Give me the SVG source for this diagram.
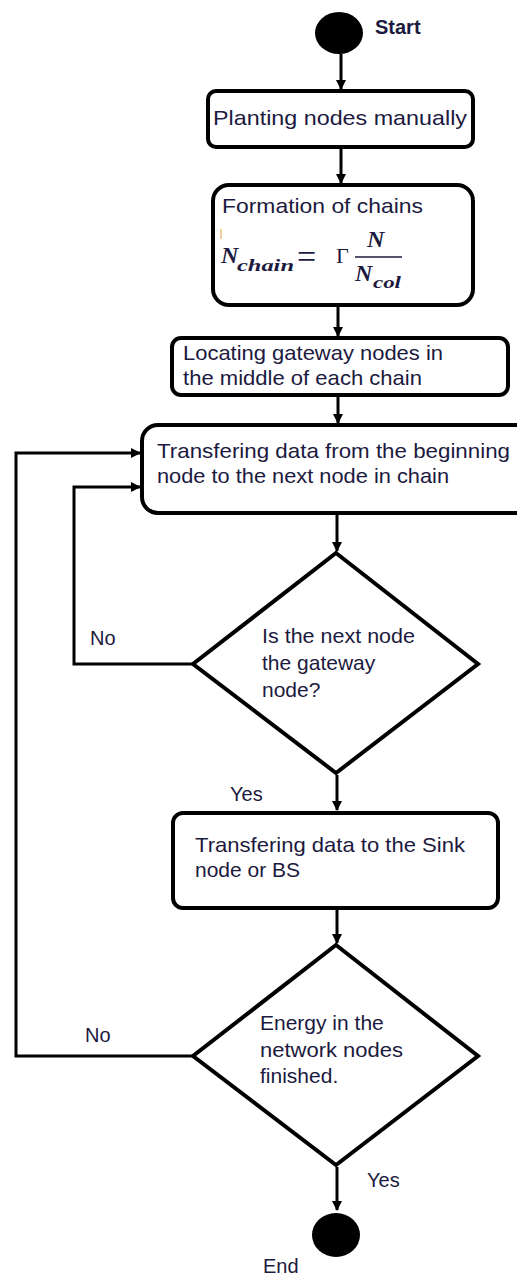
<svg xmlns="http://www.w3.org/2000/svg" width="517" height="1279" viewBox="0 0 517 1279">
<style>
.box{fill:#fff;stroke:#000;stroke-width:4}
.dia{fill:#fff;stroke:#000;stroke-width:4;stroke-linejoin:miter}
.t{font-family:"Liberation Sans",Arial,sans-serif;font-size:21px;fill:#1c1a40}
.lbl{font-family:"Liberation Sans",Arial,sans-serif;font-size:20px;fill:#1c1a40}
.m{font-family:"Liberation Serif","Times New Roman",serif;font-style:italic;font-weight:bold;fill:#1c1a40}
.c{fill:none;stroke:#000;stroke-width:3}
</style>
<defs>
<marker id="ah" markerWidth="10" markerHeight="10" refX="9" refY="5" orient="auto" markerUnits="userSpaceOnUse">
<path d="M0,0 L10,5 L0,10 Z" fill="#000"/>
</marker>
</defs>
<g id="connectors">
<line class="c" x1="341" y1="54" x2="341" y2="89" marker-end="url(#ah)"/>
<line class="c" x1="341" y1="149" x2="341" y2="183" marker-end="url(#ah)"/>
<line class="c" x1="338" y1="307" x2="338" y2="336" marker-end="url(#ah)"/>
<line class="c" x1="338" y1="397" x2="338" y2="423" marker-end="url(#ah)"/>
<line class="c" x1="337" y1="515" x2="337" y2="551" marker-end="url(#ah)"/>
<line class="c" x1="337" y1="775" x2="337" y2="810" marker-end="url(#ah)"/>
<line class="c" x1="337" y1="910" x2="337" y2="943" marker-end="url(#ah)"/>
<line class="c" x1="337" y1="1167" x2="337" y2="1210" marker-end="url(#ah)"/>
<polyline class="c" points="193,664 74,664 74,487 140,487" marker-end="url(#ah)"/>
<polyline class="c" points="193,1056 16,1056 16,453 140,453" marker-end="url(#ah)"/>
<text class="lbl" x="90" y="645">No</text>
<text class="lbl" x="230" y="801">Yes</text>
<text class="lbl" x="85" y="1042">No</text>
<text class="lbl" x="367" y="1187">Yes</text>
</g>
<g id="start">
<ellipse cx="339" cy="33" rx="24" ry="21" fill="#000"/>
<text x="375" y="34" font-family="Liberation Sans,Arial,sans-serif" font-size="20" font-weight="bold" fill="#1c1a40">Start</text>
</g>
<g id="planting">
<rect class="box" x="208" y="91" width="265" height="56" rx="8"/>
<text class="t" x="213" y="125" textLength="254" lengthAdjust="spacingAndGlyphs">Planting nodes manually</text>
</g>
<g id="formation">
<rect class="box" x="213" y="185" width="260" height="120" rx="16"/>
<text class="t" x="222" y="213" textLength="201" lengthAdjust="spacingAndGlyphs">Formation of chains</text>
<line x1="221" y1="229" x2="221" y2="239" stroke="#e8a040" stroke-width="1"/>
<text class="m" x="221" y="263" font-size="24">N</text>
<text class="m" x="237" y="271" font-size="17" textLength="57" lengthAdjust="spacingAndGlyphs">chain</text>
<text x="297" y="268" font-family="Liberation Serif,serif" font-size="34" fill="#1c1a40">=</text>
<text x="336" y="263" font-family="Liberation Serif,serif" font-size="22" fill="#1c1a40">Γ</text>
<line x1="355" y1="257" x2="402" y2="257" stroke="#1c1a40" stroke-width="1.5"/>
<text class="m" x="367" y="247" font-size="24">N</text>
<text class="m" x="355" y="281" font-size="24">N</text>
<text class="m" x="373" y="288" font-size="17" textLength="28" lengthAdjust="spacingAndGlyphs">col</text>
</g>
<g id="locating">
<rect class="box" x="172" y="338" width="336" height="57" rx="9"/>
<text class="t" x="183" y="360" textLength="260" lengthAdjust="spacingAndGlyphs">Locating gateway nodes in</text>
<text class="t" x="183" y="385" textLength="239" lengthAdjust="spacingAndGlyphs">the middle of each chain</text>
</g>
<g id="transfer1">
<rect class="box" x="142" y="425" width="390" height="88" rx="16"/>
<text class="t" x="157" y="458" textLength="353" lengthAdjust="spacingAndGlyphs">Transfering data from the beginning</text>
<text class="t" x="157" y="483" textLength="292" lengthAdjust="spacingAndGlyphs">node to the next node in chain</text>
</g>
<g id="decision1">
<polygon class="dia" points="336,553 478,664 336,773 193,664"/>
<text class="t" x="262" y="643" textLength="153" lengthAdjust="spacingAndGlyphs">Is the next node</text>
<text class="t" x="262" y="670">the gateway</text>
<text class="t" x="262" y="697">node?</text>
</g>
<g id="transfer2">
<rect class="box" x="173" y="813" width="325" height="95" rx="10"/>
<text class="t" x="195" y="852" textLength="270" lengthAdjust="spacingAndGlyphs">Transfering data to the Sink</text>
<text class="t" x="195" y="877">node or BS</text>
</g>
<g id="decision2">
<polygon class="dia" points="336,945 478,1056 336,1165 193,1056"/>
<text class="t" x="260" y="1030">Energy in the</text>
<text class="t" x="260" y="1057" textLength="143" lengthAdjust="spacingAndGlyphs">network nodes</text>
<text class="t" x="260" y="1083">finished.</text>
</g>
<g id="end">
<ellipse cx="336" cy="1235" rx="24" ry="22" fill="#000"/>
<text class="lbl" x="263" y="1273">End</text>
</g>
</svg>
